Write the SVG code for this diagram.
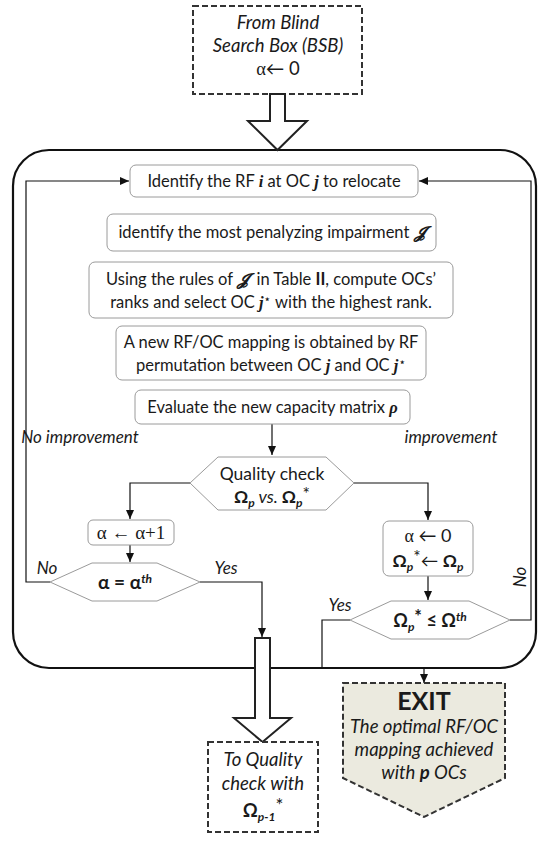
<svg xmlns="http://www.w3.org/2000/svg" width="539" height="843" viewBox="0 0 539 843">
<defs>
<style>
.box{fill:#fff;stroke:#9a9a9a;stroke-width:1}
.dash{fill:#fff;stroke:#333;stroke-width:2;stroke-dasharray:6 3}
.hollow{fill:#fff;stroke:#222;stroke-width:2;stroke-linejoin:miter}
.conn{fill:none;stroke:#111;stroke-width:1.2}
.t{font-family:Lato,"Open Sans",sans-serif;font-size:16.5px;fill:#1a1a1a;text-anchor:middle}
.big{font-size:18.5px}
.mid{font-size:17.5px}
.lab{font-size:17px;font-style:italic}
.f18{font-size:18px}
.f19{font-size:19px}
.it{font-style:italic}
.b{font-weight:bold}
.m{font-family:"Liberation Serif",serif;font-weight:bold;font-style:italic}
.g{font-family:"Liberation Serif",serif}
.sub{font-size:12px;font-weight:bold;font-style:italic}
.sup{font-size:12px;font-style:italic}
.star{font-size:12px;font-family:"DejaVu Sans",sans-serif}
</style>
<marker id="ah" markerWidth="9" markerHeight="8" refX="9" refY="4" orient="auto" markerUnits="userSpaceOnUse">
<path d="M0,0 L9,4 L0,8 z" fill="#111"/>
</marker>
</defs>
<rect width="539" height="843" fill="#fff"/>

<g id="frame">
<rect x="13" y="150" width="523" height="518" rx="36" ry="36" fill="none" stroke="#111" stroke-width="2.2"/>
</g>

<g id="connectors">
<path class="conn" d="M272,424 V455" marker-end="url(#ah)"/>
<path class="conn" d="M190,483 H130 V519" marker-end="url(#ah)"/>
<path class="conn" d="M130,545 V562" marker-end="url(#ah)"/>
<path class="conn" d="M200,582 H262 V637" marker-end="url(#ah)"/>
<path class="conn" d="M50,582 H26 V181 H129" marker-end="url(#ah)"/>
<path class="conn" d="M354,483 H428 V520" marker-end="url(#ah)"/>
<path class="conn" d="M428,576 V600" marker-end="url(#ah)"/>
<path class="conn" d="M510,620 H531 V181 H419" marker-end="url(#ah)"/>
<path class="conn" d="M350,620 H322 V668"/>
<path class="conn" d="M424,668 V683" marker-end="url(#ah)"/>
</g>

<g id="start">
<rect class="dash" x="193" y="6" width="169" height="88"/>
<text class="t big it" x="278" y="29">From Blind</text>
<text class="t big it" x="278" y="52">Search Box (BSB)</text>
<text class="t big" x="278" y="75"><tspan class="g">α</tspan>← 0</text>
</g>

<g id="arrow-in">
<polygon class="hollow" points="270,94 285,94 285,121 307,121 277.5,150 248,121 270,121"/>
</g>

<g id="identify-rf">
<rect class="box" x="130" y="165" width="288" height="32" rx="6"/>
<text class="t" x="274" y="187">Identify the RF <tspan class="m">i</tspan> at OC <tspan class="m">j</tspan> to relocate</text>
</g>

<g id="identify-imp">
<rect class="box" x="107" y="214" width="329" height="37" rx="6"/>
<text class="t" x="271.5" y="238">identify the most penalyzing impairment <tspan class="m">𝓙</tspan></text>
</g>

<g id="rules">
<rect class="box" x="89" y="262" width="364" height="56" rx="6"/>
<text class="t" x="271" y="285">Using the rules of <tspan class="m">𝓙</tspan>&#160;&#160;in Table <tspan class="b">II</tspan>,  compute OCs’</text>
<text class="t" x="271" y="308">ranks and select OC <tspan class="m">j</tspan><tspan class="star" dy="-5">⋆</tspan><tspan dy="5"> with the highest rank.</tspan></text>
</g>

<g id="mapping">
<rect class="box" x="116" y="326" width="310" height="54" rx="6"/>
<text class="t" x="271" y="348">A new RF/OC mapping is obtained by RF</text>
<text class="t" x="271" y="371">permutation between OC <tspan class="m">j</tspan> and OC <tspan class="m">j</tspan><tspan class="star" dy="-5">⋆</tspan></text>
</g>

<g id="evaluate">
<rect class="box" x="135" y="390" width="275" height="34" rx="6"/>
<text class="t" x="272.5" y="413">Evaluate the new capacity matrix <tspan class="m">ρ</tspan></text>
</g>

<g id="quality">
<polygon class="box" points="190,483 218,457 326,457 354,483 326,510 218,510"/>
<text class="t mid" x="272" y="480">Quality check</text>
<text class="t mid" x="272" y="503"><tspan class="b">Ω</tspan><tspan class="sub" dy="4">p</tspan><tspan class="it" dy="-4"> vs. </tspan><tspan class="b">Ω</tspan><tspan class="sub" dy="4">p</tspan><tspan dy="-7">*</tspan></text>
</g>

<g id="alpha-inc">
<rect class="box" x="88" y="520" width="86" height="25" rx="5"/>
<text class="t g f19" x="131" y="539">α ← α+1</text>
</g>

<g id="alpha-check">
<polygon class="box" points="50,582 92,563 157,563 200,582 157,601 92,601"/>
<text class="t b f19" x="125" y="589">α  =  α<tspan class="sup b" dy="-6">th</tspan></text>
</g>

<g id="alpha-reset">
<rect class="box" x="383" y="521" width="90" height="55" rx="6"/>
<text class="t f18" x="428" y="542"><tspan class="g">α</tspan> ← 0</text>
<text class="t mid" x="428" y="567"><tspan class="b">Ω</tspan><tspan class="sub" dy="4">p</tspan><tspan dy="-8">*</tspan><tspan dy="4">← </tspan><tspan class="b">Ω</tspan><tspan class="sub" dy="4">p</tspan></text>
</g>

<g id="omega-check">
<polygon class="box" points="350,620 391,601 469,601 510,620 469,639 391,639"/>
<text class="t b f18" x="430" y="627">Ω<tspan class="sub" dy="4">p</tspan><tspan dy="-8">*</tspan><tspan dy="4"> ≤ Ω</tspan><tspan class="sup b" dy="-6">th</tspan></text>
</g>

<g id="labels">
<text class="t lab" x="80" y="443">No improvement</text>
<text class="t lab" x="451" y="443">improvement</text>
<text class="t lab" x="47" y="574">No</text>
<text class="t lab" x="226" y="574">Yes</text>
<text class="t lab" x="340" y="611">Yes</text>
<text class="t lab" x="0" y="0" transform="translate(526,577) rotate(-90)">No</text>
</g>

<g id="arrow-out">
<polygon class="hollow" points="255,638 270,638 270,718 291,718 262.5,742 234,718 255,718"/>
</g>

<g id="to-quality">
<rect class="dash" x="208" y="742" width="110" height="90"/>
<text class="t big it" x="263" y="766">To Quality</text>
<text class="t big it" x="263" y="790">check with</text>
<text class="t big" x="263" y="817"><tspan class="b">Ω</tspan><tspan class="sub" dy="4">p-1</tspan><tspan dy="-9">*</tspan></text>
</g>

<g id="exit">
<path d="M343,683 H505 V778 L424,817 L343,778 Z" fill="#ebeadf" stroke="#333" stroke-width="2" stroke-dasharray="6 3"/>
<text class="t b" x="424" y="710" style="font-size:25px">EXIT</text>
<text class="t big it" x="424" y="733">The optimal RF/OC</text>
<text class="t big it" x="424" y="756">mapping achieved</text>
<text class="t big it" x="424" y="779">with <tspan class="b">p</tspan> OCs</text>
</g>
</svg>
